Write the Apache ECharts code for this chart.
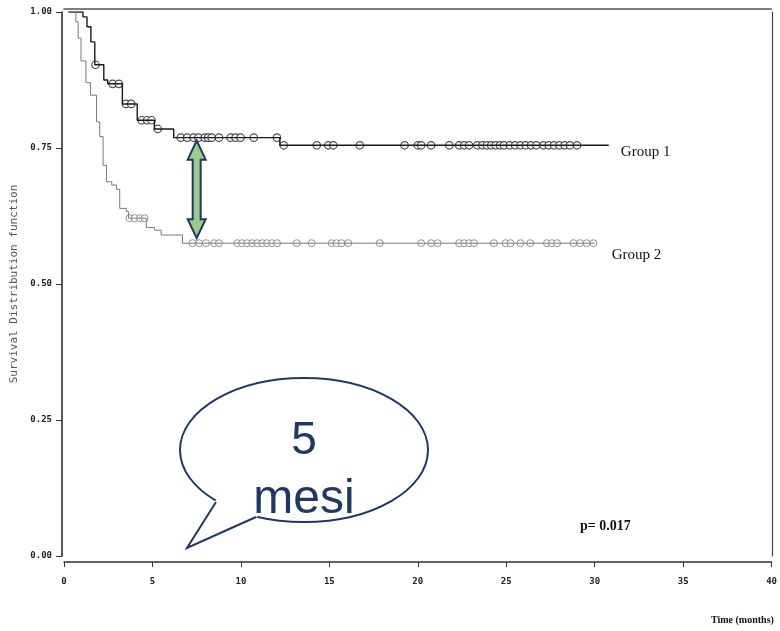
<!DOCTYPE html>
<html>
<head>
<meta charset="utf-8">
<script src="https://cdn.jsdelivr.net/npm/echarts@6/dist/echarts.min.js"></script>
<style>
html, body { margin: 0; padding: 0; background: #fff; }
#chart { width: 780px; height: 631px; }
</style>
</head>
<body>
<div id="chart"></div>
<script>
// step points (time in months, survival)
const g1Times = [0.25, 1.07, 1.30, 1.52, 1.74, 2.25, 2.47, 3.3, 4.14, 5.11, 6.2, 12.2, 30.8];
const g1Surv  = [1.0, 0.991, 0.973, 0.945, 0.903, 0.875, 0.868, 0.831, 0.801, 0.785, 0.769, 0.755, 0.755];
const g2Times = [0.25, 0.67, 0.80, 0.96, 1.24, 1.5, 1.84, 2.02, 2.21, 2.4, 2.7, 2.96, 3.15, 3.52, 3.65, 4.65, 5.11, 5.49, 6.7, 30.0];
const g2Surv  = [1.0, 0.982, 0.952, 0.91, 0.87, 0.847, 0.798, 0.771, 0.718, 0.688, 0.682, 0.674, 0.639, 0.633, 0.621, 0.604, 0.599, 0.59, 0.575, 0.575];
// censored observations (times)
const g1Censor = [1.78, 2.75, 3.1, 3.5, 3.8, 4.4, 4.7, 4.95, 5.3, 6.6, 6.96, 7.33, 7.6, 7.95, 8.15, 8.35, 8.76, 9.42, 9.7, 9.98, 10.73, 12.04,
                  12.42, 14.29, 14.94, 15.22, 16.72, 19.25, 20.0, 20.19, 20.75, 21.78, 22.34, 22.62, 22.9, 23.37, 23.65, 23.9, 24.15, 24.4,
                  24.65, 24.87, 25.2, 25.5, 25.8, 26.1, 26.4, 26.7, 27.1, 27.4, 27.7, 28.0, 28.3, 28.6, 29.0];
const g2Censor = [3.7, 4.0, 4.3, 4.55, 7.26, 7.64, 8.02, 8.48, 8.76, 9.79, 10.07, 10.35, 10.64, 10.92, 11.2, 11.48, 11.76, 12.04, 13.16,
                  14.0, 15.13, 15.41, 15.69, 16.07, 17.85, 20.19, 20.75, 21.12, 22.34, 22.62, 22.9, 23.18, 24.3, 24.96, 25.24, 25.8,
                  26.36, 27.3, 27.58, 27.87, 28.8, 29.17, 29.55, 29.93];
const groupNames = ["Group 1", "Group 2"];
const pValue = "p= 0.017";
const arrowTime = 7.5;
const bubbleText = ["5", "mesi"];

const stepAt = (times, surv, t) => {
   let v = surv[0];
   for (let i = 0; i < times.length; i++) {
      if (times[i] <= t) v = surv[i];
   }
   return v;
}
const toPairs = (times, surv) => times.map((t, i) => [t, surv[i]]);
const censorPairs = (list, times, surv) => list.map(t => [t, stepAt(times, surv, t)]);

const monoFont = '"DejaVu Sans Mono", monospace';
const serifFont = '"Liberation Serif", serif';
const navy = '#1f3864';

let chart = echarts.init(document.getElementById('chart'));
let option = {
   animation: false,
   backgroundColor: '#fff',
   grid: { left: 64, right: 4, top: 12, bottom: 75 },
   xAxis: [
      {
         type: 'value', min: 0, max: 40, interval: 5, offset: 6,
         axisLine: { show: true, onZero: false, lineStyle: { color: '#333', width: 1.5 } },
         axisTick: { show: true, length: 5, lineStyle: { color: '#333' } },
         axisLabel: { margin: 15, fontFamily: monoFont, fontWeight: 'bold', fontSize: 9, color: '#222' },
         splitLine: { show: false }
      },
      {
         type: 'value', min: 0, max: 40, position: 'top', offset: 3,
         axisLine: { show: true, onZero: false, lineStyle: { color: '#555', width: 1.5 } },
         axisTick: { show: false }, axisLabel: { show: false }, splitLine: { show: false }
      }
   ],
   yAxis: [
      {
         type: 'value', min: 0, max: 1, interval: 0.25, offset: 2,
         name: 'Survival Distribution function', nameLocation: 'middle', nameGap: 34,
         nameTextStyle: { fontFamily: monoFont, fontSize: 11, color: '#555' },
         axisLine: { show: true, onZero: false, lineStyle: { color: '#222', width: 1.5 } },
         axisTick: { show: true, length: 6, lineStyle: { color: '#333' } },
         axisLabel: { margin: 10, fontFamily: monoFont, fontWeight: 'bold', fontSize: 9, color: '#222',
                      formatter: v => v.toFixed(2) },
         splitLine: { show: false }
      },
      {
         type: 'value', min: 0, max: 1, position: 'right', offset: 1,
         axisLine: { show: true, onZero: false, lineStyle: { color: '#444', width: 1.2 } },
         axisTick: { show: false }, axisLabel: { show: false }, splitLine: { show: false }
      }
   ],
   series: [
      {
         name: groupNames[0], type: 'line', step: 'end', symbol: 'none',
         data: toPairs(g1Times, g1Surv),
         lineStyle: { color: '#1a1a1a', width: 1.4 },
         endLabel: { show: true, formatter: groupNames[0], distance: 12, offset: [0, 7],
                     fontFamily: serifFont, fontSize: 15, color: '#111' }
      },
      {
         name: groupNames[1], type: 'line', step: 'end', symbol: 'none',
         data: toPairs(g2Times, g2Surv),
         lineStyle: { color: '#7a7a7a', width: 1 },
         endLabel: { show: true, formatter: groupNames[1], distance: 17, offset: [0, 12],
                     fontFamily: serifFont, fontSize: 15, color: '#111' }
      },
      {
         type: 'scatter', symbol: 'circle', symbolSize: 7.5,
         data: censorPairs(g1Censor, g1Times, g1Surv),
         itemStyle: { color: '#fff', borderColor: '#222', borderWidth: 1.2 }
      },
      {
         type: 'scatter', symbol: 'circle', symbolSize: 7,
         data: censorPairs(g2Censor, g2Times, g2Surv),
         itemStyle: { color: '#fff', borderColor: '#7a7a7a', borderWidth: 1 }
      }
   ]
};
chart.setOption(option);

// annotations anchored on the data scale
const arrowTop = chart.convertToPixel({ gridIndex: 0 }, [arrowTime, stepAt(g1Times, g1Surv, arrowTime)]);
const arrowBot = chart.convertToPixel({ gridIndex: 0 }, [arrowTime, stepAt(g2Times, g2Surv, arrowTime)]);
const cx = arrowTop[0], ty = arrowTop[1] + 3, by = arrowBot[1] - 5;
const hw = 9, sw = 4, hh = 19;
const arrowPts = [[cx, ty], [cx + hw, ty + hh], [cx + sw, ty + hh], [cx + sw, by - hh], [cx + hw, by - hh],
                  [cx, by], [cx - hw, by - hh], [cx - sw, by - hh], [cx - sw, ty + hh], [cx - hw, ty + hh]];

chart.setOption({
   graphic: [
      { type: 'polygon', z: 100, shape: { points: arrowPts },
        style: { fill: '#9ccb8e', stroke: navy, lineWidth: 2 } },
      { type: 'ellipse', z: 100, shape: { cx: 304, cy: 450, rx: 124, ry: 72 },
        style: { fill: '#fff', stroke: navy, lineWidth: 2 } },
      { type: 'polygon', z: 101, shape: { points: [[217, 501], [187, 548], [255, 516], [236, 503]] },
        style: { fill: '#fff', stroke: '#fff', lineWidth: 3 } },
      { type: 'polyline', z: 102, shape: { points: [[216, 502], [187, 548], [256, 517]] },
        style: { stroke: navy, lineWidth: 2, fill: null } },
      { type: 'text', z: 103, x: 304, y: 441,
        style: { text: bubbleText[0], fill: navy, font: '46px "Liberation Sans", Arial, sans-serif',
                 textAlign: 'center', textVerticalAlign: 'middle' } },
      { type: 'text', z: 103, x: 304, y: 500,
        style: { text: bubbleText[1], fill: navy, font: '48px "Liberation Sans", Arial, sans-serif',
                 textAlign: 'center', textVerticalAlign: 'middle' } },
      { type: 'text', z: 103, x: 580, y: 526,
        style: { text: pValue, fill: '#111', font: 'bold 14px ' + serifFont,
                 textAlign: 'left', textVerticalAlign: 'middle' } },
      { type: 'text', z: 103, x: 711, y: 620,
        style: { text: 'Time (months)', fill: '#111', font: 'bold 10px ' + serifFont,
                 textAlign: 'left', textVerticalAlign: 'middle' } }
   ]
});
</script>
</body>
</html>
